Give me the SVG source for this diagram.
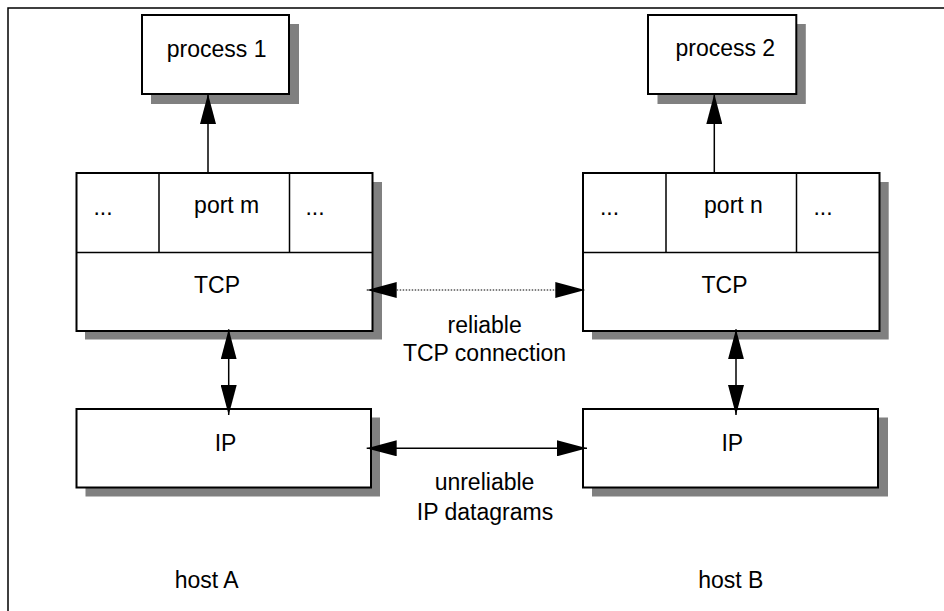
<svg xmlns="http://www.w3.org/2000/svg" width="944" height="611" viewBox="0 0 944 611">
<style>
.box{fill:#fff;stroke:#000;stroke-width:2}
.sh{fill:#808080;stroke:none}
.div{stroke:#000;stroke-width:1.5;fill:none}
.t{font-family:"Liberation Sans",Arial,sans-serif;font-size:23px;fill:#000;text-anchor:middle}
.c{stroke:#000;stroke-width:1.5;fill:none}
.dot{stroke:#000;stroke-width:1.2;fill:none;stroke-dasharray:1.5 1.5}
</style>
<defs>
<marker id="ah" markerUnits="userSpaceOnUse" markerWidth="30" markerHeight="16" refX="30" refY="8" orient="auto-start-reverse" viewBox="0 0 30 16">
<path d="M0,0 L30,8 L0,16 z" fill="#000"/>
</marker>
</defs>
<rect width="944" height="611" fill="#fff"/>
<path d="M8,611 V8 H944" fill="none" stroke="#000" stroke-width="1.5"/>

<g id="process1">
<rect class="sh" x="151" y="24" width="148" height="80"/>
<rect class="box" x="142" y="15" width="147" height="79"/>
<text class="t" x="216.7" y="57">process 1</text>
</g>

<g id="process2">
<rect class="sh" x="657.5" y="24" width="148.3" height="80"/>
<rect class="box" x="648" y="15" width="148.3" height="79"/>
<text class="t" x="725.3" y="56">process 2</text>
</g>

<g id="tcpA">
<rect class="sh" x="85" y="182" width="297" height="157.5"/>
<rect class="box" x="76.5" y="173" width="296" height="158"/>
<path class="div" d="M76.5,252.5 H372.5 M159,173 V252.5 M289.5,173 V252.5"/>
<text class="t" x="103" y="215">...</text>
<text class="t" x="226.7" y="213">port m</text>
<text class="t" x="315" y="215">...</text>
<text class="t" x="217" y="293">TCP</text>
</g>

<g id="tcpB">
<rect class="sh" x="592" y="182" width="296.7" height="157.5"/>
<rect class="box" x="583" y="173" width="296.5" height="158"/>
<path class="div" d="M583,252.5 H879.5 M666,173 V252.5 M796.5,173 V252.5"/>
<text class="t" x="609.5" y="215">...</text>
<text class="t" x="733.5" y="213">port n</text>
<text class="t" x="823" y="215">...</text>
<text class="t" x="724.5" y="293">TCP</text>
</g>

<g id="ipA">
<rect class="sh" x="85.5" y="417.5" width="294.5" height="79"/>
<rect class="box" x="76.5" y="409" width="294.5" height="78.5"/>
<text class="t" x="225.5" y="450.7">IP</text>
</g>

<g id="ipB">
<rect class="sh" x="592" y="417.5" width="296" height="79"/>
<rect class="box" x="583" y="409" width="295" height="78.5"/>
<text class="t" x="732.3" y="450.7">IP</text>
</g>

<g id="labels">
<text class="t" x="484.7" y="333.3">reliable</text>
<text class="t" x="484.5" y="360.7">TCP connection</text>
<text class="t" x="484.5" y="490">unreliable</text>
<text class="t" x="485" y="520">IP datagrams</text>
<text class="t" x="206.7" y="588.3">host A</text>
<text class="t" x="730.8" y="588.3">host B</text>
</g>

<g id="connectors">
<line class="c" x1="208" y1="173" x2="208" y2="94" marker-end="url(#ah)"/>
<line class="c" x1="714.3" y1="173" x2="714.3" y2="94" marker-end="url(#ah)"/>
<line class="dot" x1="366.7" y1="290" x2="585.3" y2="290" marker-start="url(#ah)" marker-end="url(#ah)"/>
<line class="c" x1="366.7" y1="448.3" x2="587" y2="448.3" marker-start="url(#ah)" marker-end="url(#ah)"/>
<line class="c" x1="228.7" y1="329.3" x2="228.7" y2="415" marker-start="url(#ah)" marker-end="url(#ah)"/>
<line class="c" x1="736" y1="329.3" x2="736" y2="415" marker-start="url(#ah)" marker-end="url(#ah)"/>
</g>
</svg>
